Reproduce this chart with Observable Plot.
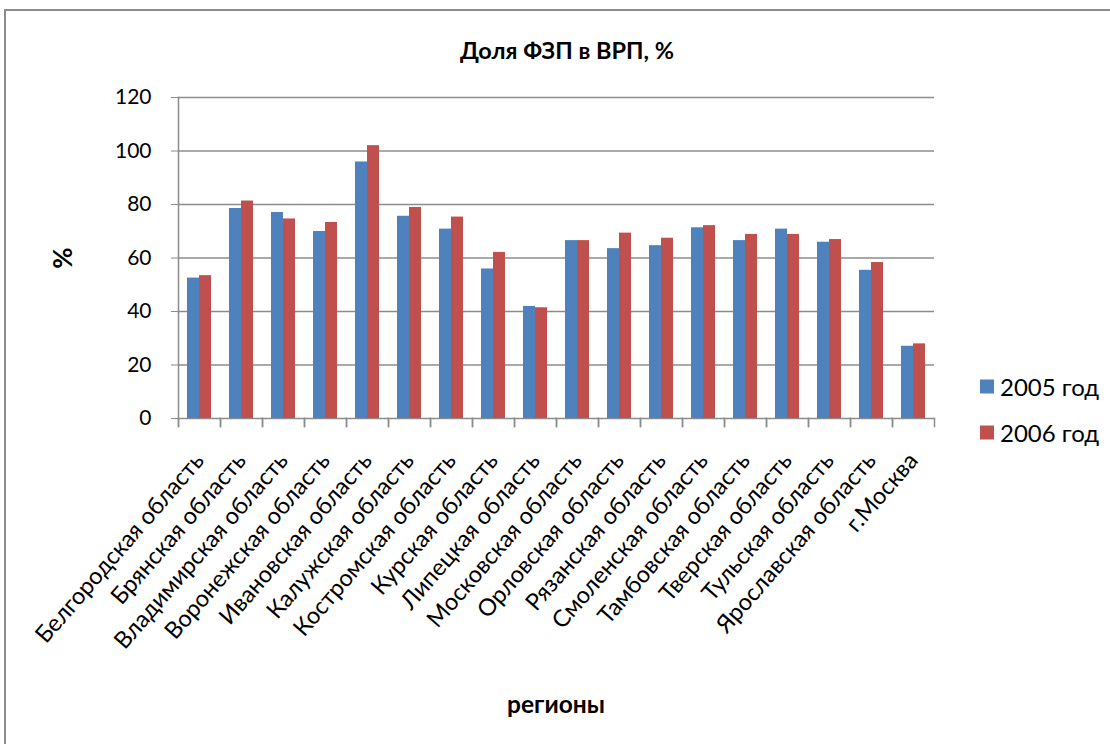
<!DOCTYPE html>
<html>
<head>
<meta charset="utf-8">
<script src="https://cdn.jsdelivr.net/npm/d3@7"></script>
<script src="https://cdn.jsdelivr.net/npm/@observablehq/plot@0.6"></script>
<style>
  html, body { margin: 0; padding: 0; background: #fff; overflow: hidden; }
  body { width: 1110px; height: 744px; position: relative; font-family: Lato, "Open Sans", sans-serif; }
  #border { position: absolute; left: 4px; top: 9px; width: 1200px; height: 900px; border: 2px solid #8c8c8c; box-sizing: border-box; }
  #chart { position: absolute; left: 0; top: 0; }
  .lbl { position: absolute; white-space: nowrap; color: #000; }
  #title { left: 567px; top: 50px; transform: translate(-50%, -50%); font-weight: bold; font-size: 23.5px; }
  #xlabel { left: 556px; top: 703px; transform: translate(-50%, -50%); font-weight: bold; font-size: 24.5px; }
  #ylabel { left: 62px; top: 258px; transform: translate(-50%, -50%) rotate(-90deg); font-weight: bold; font-size: 26px; }
  .leg { position: absolute; left: 980px; font-size: 24px; display: flex; align-items: center; transform: translateY(-50%); }
  .sw { width: 14px; height: 14px; margin-right: 6px; }
</style>
</head>
<body>
<div id="border"></div>
<div id="chart"></div>
<div id="title" class="lbl">Доля ФЗП в ВРП, %</div>
<div id="ylabel" class="lbl">%</div>
<div id="xlabel" class="lbl">регионы</div>
<div id="legend"></div>
<script>
const regions = ["Белгородская область","Брянская область","Владимирская область","Воронежская область","Ивановская область","Калужская область","Костромская область","Курская область","Липецкая область","Московская область","Орловская область","Рязанская область","Смоленская область","Тамбовская область","Тверская область","Тульская область","Ярославская область","г.Москва"];
const years = ["2005 год", "2006 год"];
const v2005 = [52.5, 78.5, 77, 69.9, 95.9, 75.6, 70.8, 55.9, 41.9, 66.5, 63.5, 64.6, 71.3, 66.5, 70.8, 65.9, 55.4, 27];
const v2006 = [53.4, 81.3, 74.6, 73.3, 102, 78.9, 75.3, 62.1, 41.4, 66.5, 69.3, 67.4, 72.1, 68.8, 68.8, 66.9, 58.3, 27.9];
const yTicks = [0, 20, 40, 60, 80, 100, 120];
const colors = ["#4F81BD", "#C0504D"];

const data = [];
regions.forEach((r, i) => {
  data.push({region: r, year: years[0], value: v2005[i]});
  data.push({region: r, year: years[1], value: v2006[i]});
});

const W = 1110, H = 744;
const mL = 175, mR = 173, mT = 97, mB = 326;
const plotH = H - mT - mB;
const grey = "#8c8c8c";

const chart = Plot.plot({
  width: W, height: H,
  marginLeft: mL, marginRight: mR, marginTop: mT, marginBottom: mB,
  style: {fontFamily: "Lato, 'Open Sans', sans-serif", background: "transparent", overflow: "visible"},
  fx: {domain: regions, paddingInner: 0, paddingOuter: 0, label: null},
  x: {domain: years, paddingInner: 0, paddingOuter: 0.69, axis: null},
  y: {domain: [0, 120], label: null},
  color: {domain: years, range: colors},
  marks: [
    Plot.ruleY(yTicks, {stroke: grey, strokeWidth: 1.5}),
    Plot.barY(data, {fx: "region", x: "year", y: "value", fill: "year", inset: 0}),
    Plot.frame({anchor: "left", facet: "super", stroke: grey, strokeWidth: 1.5, insetBottom: -8}),
    Plot.frame({anchor: "left", stroke: grey, strokeWidth: 1.5, insetTop: plotH, insetBottom: -8}),
    Plot.frame({anchor: "right", stroke: grey, strokeWidth: 1.5, insetTop: plotH, insetBottom: -8}),
    Plot.axisY({ticks: yTicks, tickSize: 7, tickPadding: 20, fontSize: 21, stroke: grey, fill: "#000", label: null}),
    Plot.axisFx({anchor: "bottom", tickSize: 0, tickPadding: 38, tickRotate: -49, fontSize: 23.5, fill: "#000", label: null, dx: 0})
  ]
});
document.getElementById("chart").appendChild(chart);

const legend = document.getElementById("legend");
const legendY = [386, 432];
years.forEach((y, i) => {
  const d = document.createElement("div");
  d.className = "leg";
  d.style.top = legendY[i] + "px";
  d.innerHTML = `<span class="sw" style="background:${colors[i]}"></span><span>${y}</span>`;
  legend.appendChild(d);
});
</script>
</body>
</html>
